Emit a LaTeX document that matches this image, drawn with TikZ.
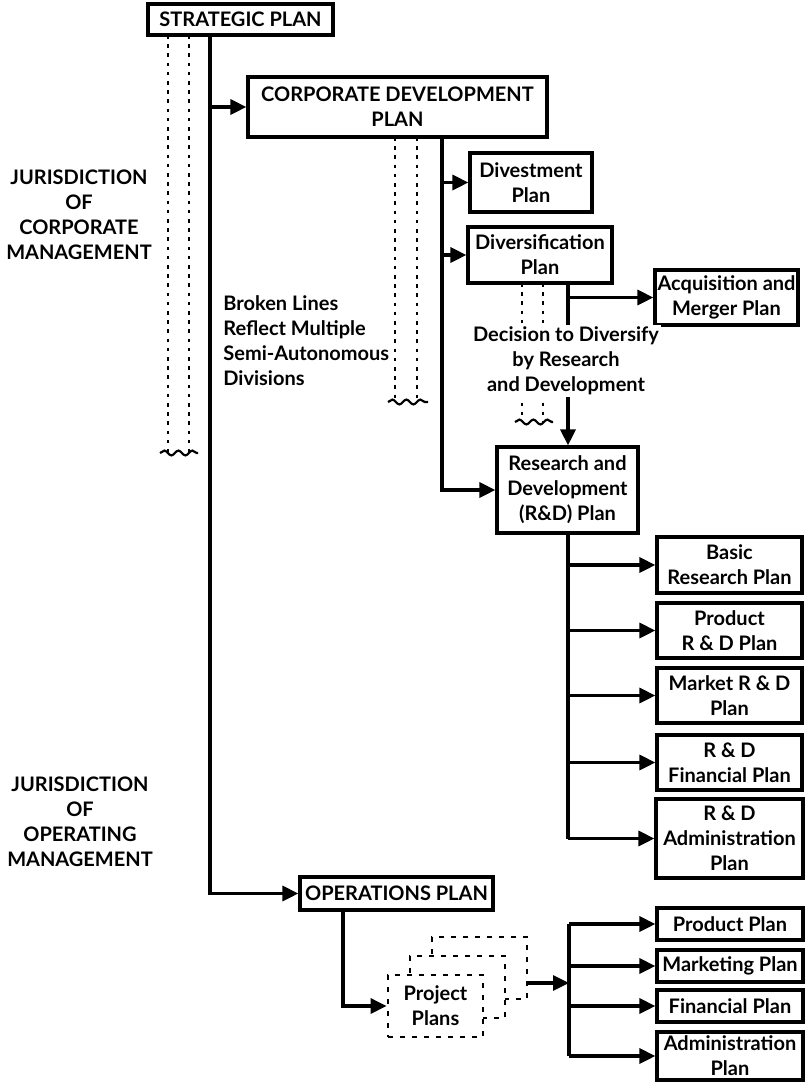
\documentclass[tikz,border=0pt]{standalone}
\usepackage{fontspec}
\setmainfont{Lato}
\usetikzlibrary{arrows.meta,decorations.pathmorphing}

\begin{document}
\begin{tikzpicture}[x=0.5pt,y=-0.5pt,
    plan/.style={draw, line width=1.6pt, fill=white, align=center, inner sep=0pt,
        font=\bfseries\fontsize{10}{12.5}\selectfont},
    project/.style={plan, line width=1.4pt, dash pattern=on 2.5pt off 3.5pt,
        minimum width=47.5pt, minimum height=31pt},
    note/.style={align=center, inner sep=1pt, font=\bfseries\fontsize{10}{12.5}\selectfont},
    trunk/.style={line width=1.6pt},
    link/.style={line width=1.6pt, -{Triangle[length=8pt,width=7.5pt]}},
    division/.style={line width=1.1pt, dash pattern=on 1.8pt off 2.8pt},
    wavy/.style={line width=1.1pt, decorate, decoration={snake,amplitude=1.2pt,segment length=7pt}}]
    \useasboundingbox (0,0) rectangle (804,1082);

    % Draw the corporate plans
    \node[plan, minimum width=92.5pt, minimum height=15.5pt] (strat) at (240.5,19.5) {STRATEGIC PLAN};
    \node[plan, minimum width=149.5pt, minimum height=30pt] (cdp) at (397.5,107) {CORPORATE DEVELOPMENT\\PLAN};
    \node[plan, minimum width=61pt, minimum height=29.5pt] (divest) at (531,182.5) {Divestment\\Plan};
    \node[plan, minimum width=72pt, minimum height=28pt] (divers) at (540,255) {Diversification\\Plan};
    \node[plan, minimum width=71.5pt, minimum height=27.5pt] (acq) at (726.5,297.5) {Acquisition and\\Merger Plan};
    \node[plan, minimum width=70.5pt, minimum height=43pt] (rd) at (567.5,490) {Research and\\Development\\(R\&D) Plan};

    % Draw the R&D plans
    \node[plan, minimum width=72.5pt, minimum height=28pt] (basic) at (729.5,565) {Basic\\Research Plan};
    \node[plan, minimum width=72.5pt, minimum height=27.5pt] (prodrd) at (729.5,630.5) {Product\\R \& D Plan};
    \node[plan, minimum width=72.5pt, minimum height=27.5pt] (market) at (729.5,695.5) {Market R \& D\\Plan};
    \node[plan, minimum width=72.5pt, minimum height=27.5pt] (rdfin) at (729.5,762.5) {R \& D\\Financial Plan};
    \node[plan, minimum width=73.5pt, minimum height=39.5pt] (rdadmin) at (729.5,838.5) {R \& D\\Administration\\Plan};

    % Draw the operating plans
    \node[plan, minimum width=96.5pt, minimum height=16.5pt] (ops) at (396.5,893.5) {OPERATIONS PLAN};
    \node[project] (ppback) at (479.5,968) {};
    \node[project] (ppmid) at (457.5,987) {};
    \node[project] (pp) at (435.5,1006) {Project\\Plans};
    \node[plan, minimum width=73pt, minimum height=16pt] (prod) at (730,924) {Product Plan};
    \node[plan, minimum width=73pt, minimum height=16pt] (mkt) at (730,966) {Marketing Plan};
    \node[plan, minimum width=73pt, minimum height=16pt] (fin) at (730,1006) {Financial Plan};
    \node[plan, minimum width=73pt, minimum height=24pt] (adm) at (730,1056) {Administration\\Plan};

    % Broken lines for the divisions
    \draw[division] (168,35) -- (168,453);
    \draw[division] (189,35) -- (189,453);
    \draw[wavy] (160,453) -- (198,453);
    \draw[division] (395,137) -- (395,402);
    \draw[division] (417,137) -- (417,402);
    \draw[wavy] (388,402) -- (428,402);
    \draw[division] (522,283) -- (522,422);
    \draw[division] (543,283) -- (543,422);
    \draw[wavy] (515,422) -- (553,422);

    % Connectors
    \coordinate (t1) at (210,35);
    \draw[link] (t1) |- (ops.west);
    \draw[link] (t1 |- cdp.west) -- (cdp.west);
    \coordinate (t2) at (442,137);
    \draw[link] (t2) |- (rd.west);
    \draw[link] (t2 |- divest.west) -- (divest.west);
    \draw[link] (t2 |- divers.west) -- (divers.west);
    \coordinate (t3) at (568,283);
    \draw[link] (t3) -- (t3 |- rd.north);
    \draw[link] (t3 |- acq.west) -- (acq.west);
    \coordinate (t4) at (568,533);
    \draw[trunk] (t4) -- (t4 |- rdadmin.west);
    \foreach \n in {basic,prodrd,market,rdfin,rdadmin}
        \draw[link] (t4 |- \n.west) -- (\n.west);
    \coordinate (t5) at (343,910);
    \draw[link] (t5) |- (pp.west);
    \coordinate (t6) at (569,0);
    \draw[trunk] (t6 |- prod.west) -- (t6 |- adm.west);
    \foreach \n in {prod,mkt,fin,adm}
        \draw[link] (t6 |- \n.west) -- (\n.west);
    \coordinate (pout) at (526,983);
    \draw[link] (pout) -- (pout -| t6);

    % Labels
    \node[note] (corpjur) at (79,215) {JURISDICTION\\OF\\CORPORATE\\MANAGEMENT};
    \node[note] (opjur) at (80,822) {JURISDICTION\\OF\\OPERATING\\MANAGEMENT};
    \node[note, align=left, anchor=west] (broken) at (221,340.5) {Broken Lines\\Reflect Multiple\\Semi-Autonomous\\Divisions};
    \node[note, fill=white] (decide) at (566,361) {Decision to Diversify\\by Research\\and Development};
\end{tikzpicture}
\end{document}
